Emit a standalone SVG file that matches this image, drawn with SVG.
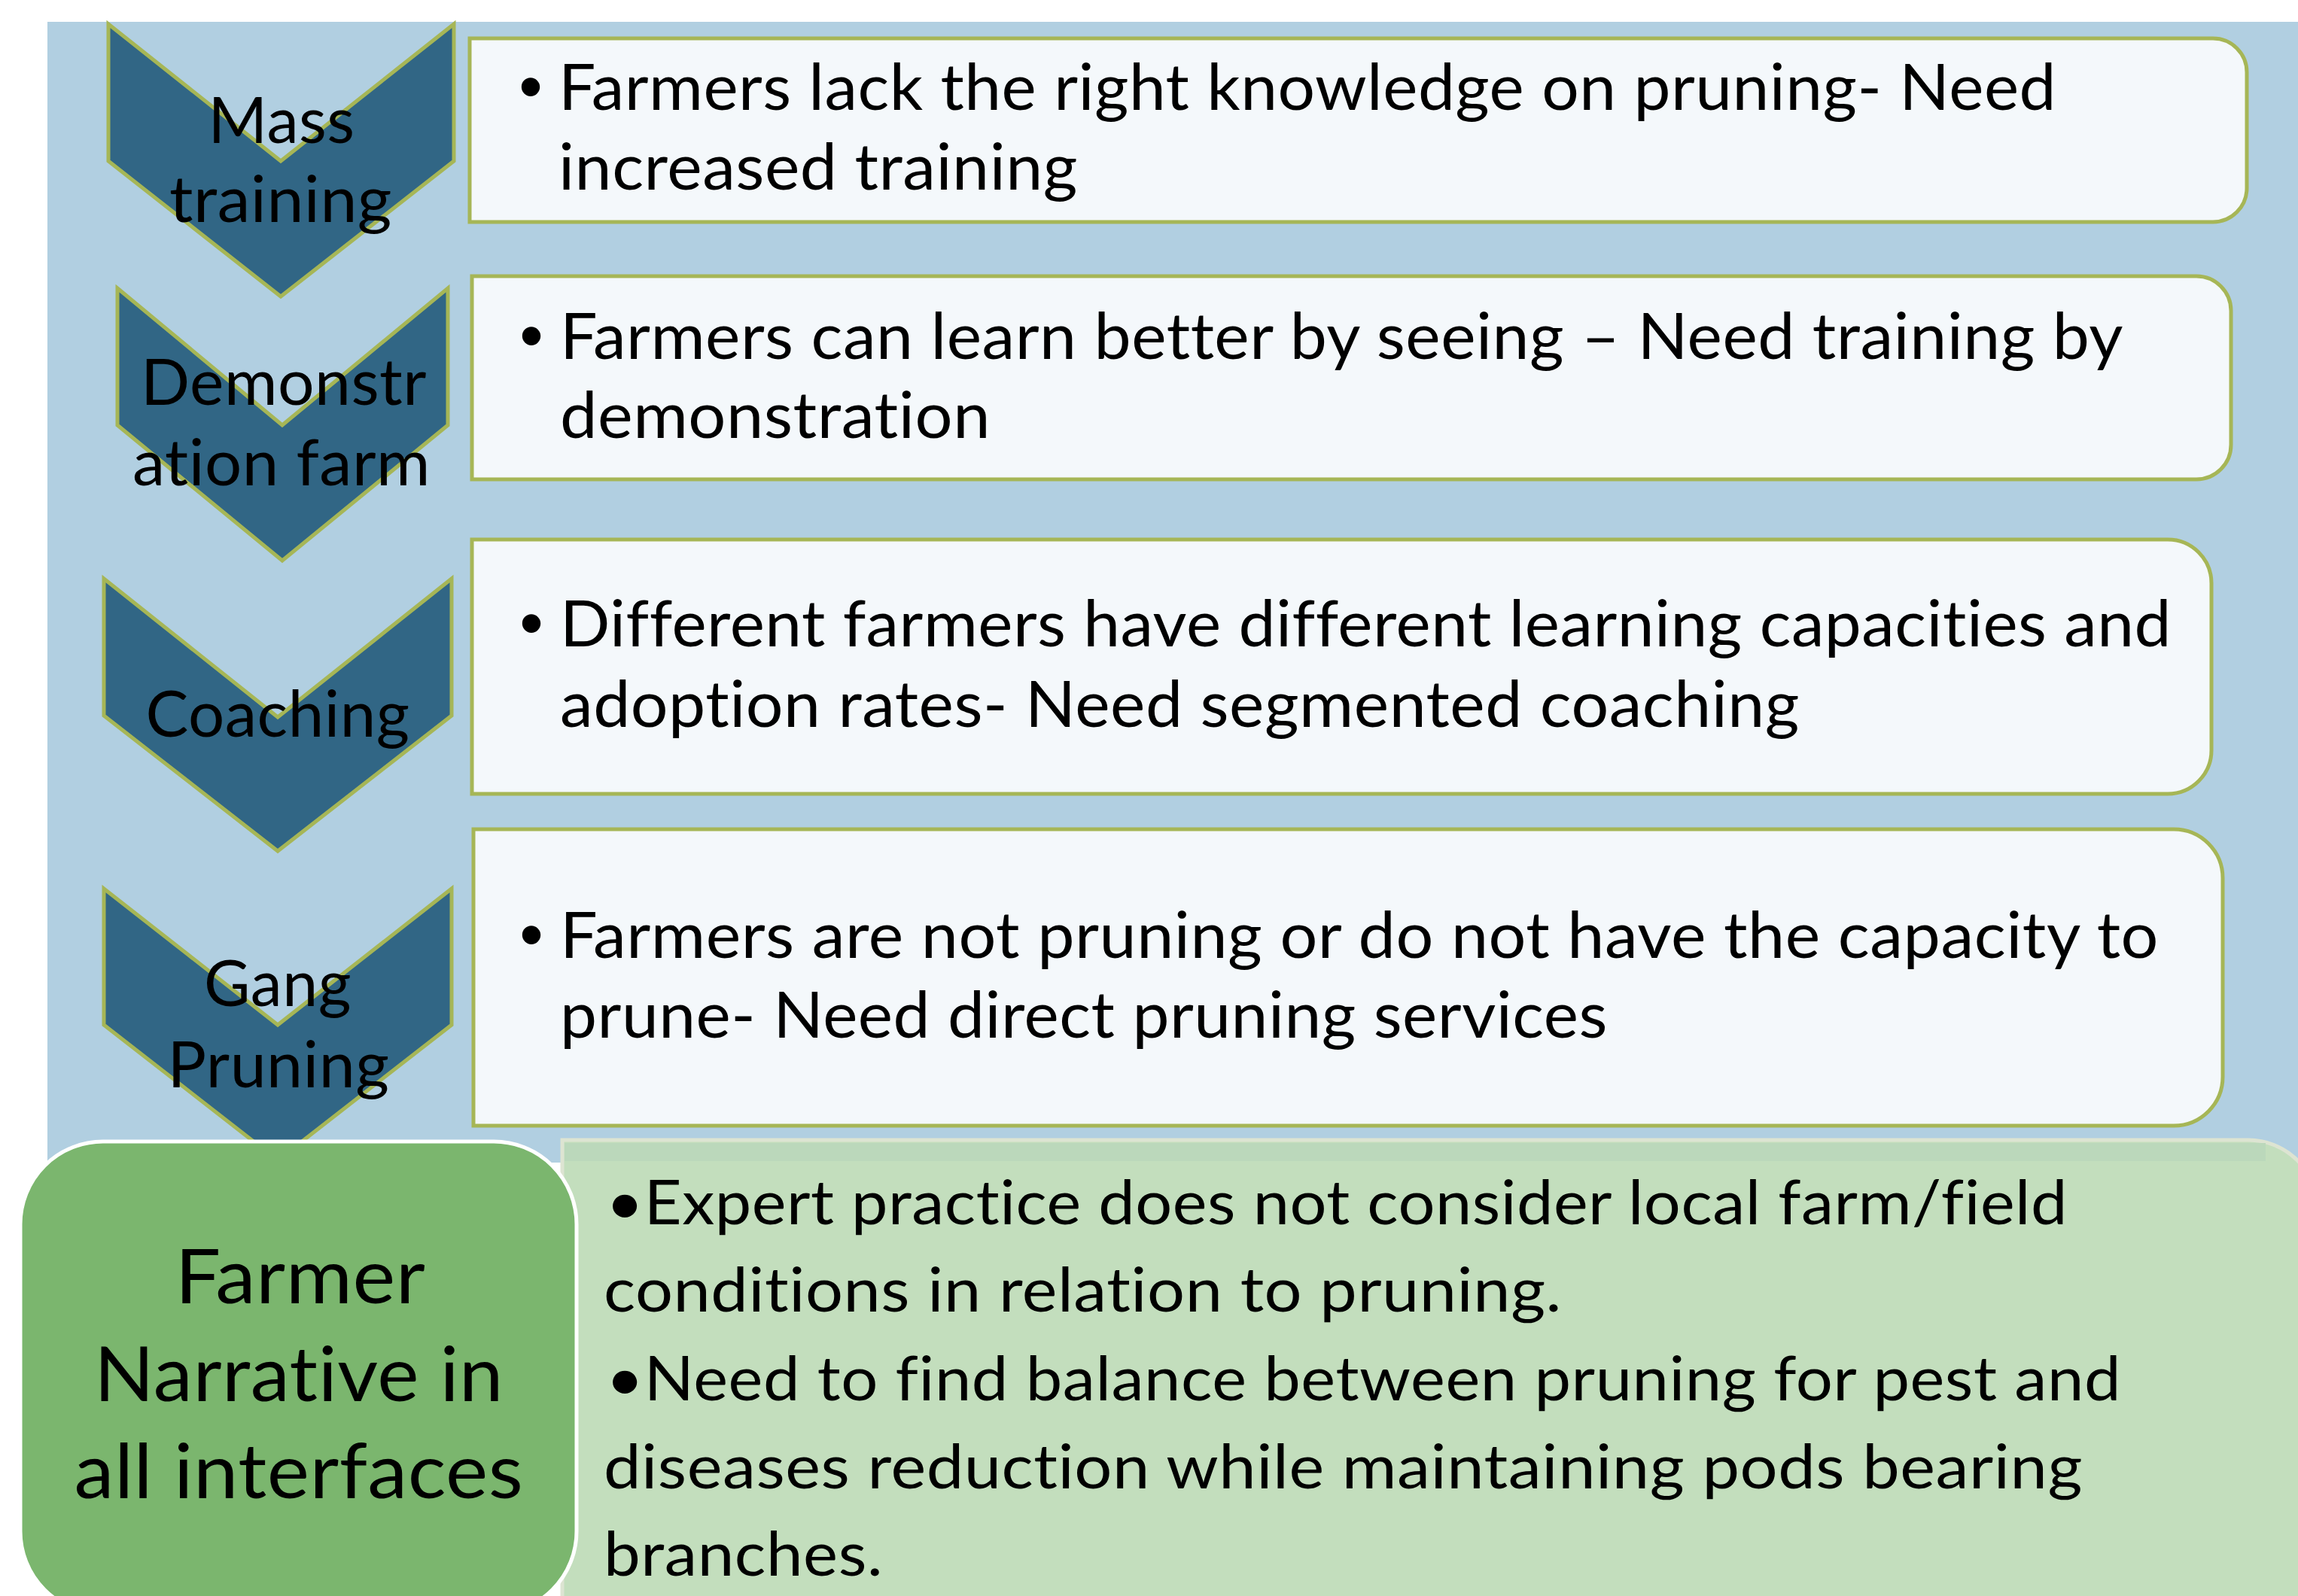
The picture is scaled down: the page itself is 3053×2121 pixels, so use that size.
<svg xmlns="http://www.w3.org/2000/svg" width="3053" height="2121" viewBox="0 0 3053 2121">
<style>
.chev{fill:#316685;stroke:#A6B656;stroke-width:5;stroke-linejoin:miter}
.box{fill:#F4F8FB;stroke:#A6B656;stroke-width:5}
.t{font-family:Lato,"Liberation Sans",sans-serif;fill:#000;font-variant-ligatures:none;font-feature-settings:"liga" 0,"clig" 0,"dlig" 0;letter-spacing:0.5px}
.c{text-anchor:middle}
.s86{font-size:86px}
.s81{font-size:81px}
.s100{font-size:101px}
.bul{font-family:"Liberation Sans",sans-serif;font-size:90px;text-anchor:middle;fill:#000}
</style>
<rect width="3053" height="2121" fill="#FFFFFF"/>
<rect id="background" x="63" y="29" width="2990" height="1516" fill="#B1CFE1"/>

<g id="chevron-mass-training">
<polygon class="chev" points="144,32 373,214 603,32 603,214 373,394 144,214"/>
<text class="t c s86" x="374" y="190" textLength="195" lengthAdjust="spacingAndGlyphs">Mass</text>
<text class="t c s86" x="373" y="295" textLength="296" lengthAdjust="spacingAndGlyphs">training</text>
</g>
<g id="chevron-demonstration-farm">
<polygon class="chev" points="156,383 375,565 595,383 595,565 375,745 156,565"/>
<text class="t c s86" x="377" y="538" textLength="380" lengthAdjust="spacingAndGlyphs">Demonstr</text>
<text class="t c s86" x="374" y="645" textLength="396" lengthAdjust="spacingAndGlyphs">ation farm</text>
</g>
<g id="chevron-coaching">
<polygon class="chev" points="138,769 369,953 600,769 600,951 369,1131 138,951"/>
<text class="t c s86" x="369" y="979" textLength="351" lengthAdjust="spacingAndGlyphs">Coaching</text>
</g>
<g id="chevron-gang-pruning">
<polygon class="chev" points="138,1181 369,1362 600,1181 600,1362 369,1542 138,1362"/>
<text class="t c s86" x="369" y="1337" textLength="196" lengthAdjust="spacingAndGlyphs">Gang</text>
<text class="t c s86" x="370" y="1445" textLength="295" lengthAdjust="spacingAndGlyphs">Pruning</text>
</g>

<g id="box-mass-training">
<path class="box" d="M624,51 H2940 A45,45 0 0 1 2985,96 V250 A45,45 0 0 1 2940,295 H624 Z"/>
<text class="bul" x="705" y="146">•</text>
<text class="t s86" x="742" y="146" textLength="1990" lengthAdjust="spacingAndGlyphs">Farmers lack the right knowledge on pruning- Need</text>
<text class="t s86" x="742" y="252" textLength="690" lengthAdjust="spacingAndGlyphs">increased training</text>
</g>
<g id="box-demonstration-farm">
<path class="box" d="M627,367 H2918 A46,46 0 0 1 2964,413 V591 A46,46 0 0 1 2918,637 H627 Z"/>
<text class="bul" x="706" y="477">•</text>
<text class="t s86" x="744" y="477" textLength="2077" lengthAdjust="spacingAndGlyphs">Farmers can learn better by seeing – Need training by</text>
<text class="t s86" x="744" y="582" textLength="572" lengthAdjust="spacingAndGlyphs">demonstration</text>
</g>
<g id="box-coaching">
<path class="box" d="M627,717 H2880 A58,58 0 0 1 2938,775 V997 A58,58 0 0 1 2880,1055 H627 Z"/>
<text class="bul" x="706" y="859">•</text>
<text class="t s86" x="744" y="859" textLength="2141" lengthAdjust="spacingAndGlyphs">Different farmers have different learning capacities and</text>
<text class="t s86" x="744" y="966" textLength="1647" lengthAdjust="spacingAndGlyphs">adoption rates- Need segmented coaching</text>
</g>
<g id="box-gang-pruning">
<path class="box" d="M629,1102 H2888 A65,65 0 0 1 2953,1167 V1431 A65,65 0 0 1 2888,1496 H629 Z"/>
<text class="bul" x="706" y="1273">•</text>
<text class="t s86" x="744" y="1273" textLength="2124" lengthAdjust="spacingAndGlyphs">Farmers are not pruning or do not have the capacity to</text>
<text class="t s86" x="744" y="1379" textLength="1392" lengthAdjust="spacingAndGlyphs">prune- Need direct pruning services</text>
</g>

<g id="box-expert-practice">
<path d="M747,1515 H2987 A92,92 0 0 1 3079,1607 V2200 H747 Z" fill="#C3DEBD" stroke="#DDE4D2" stroke-width="5"/>
<rect x="750" y="1519" width="2260" height="24" fill="#BBD8BB"/>
<text class="t s81" x="805" y="1627" textLength="1942" lengthAdjust="spacingAndGlyphs">•Expert practice does not consider local farm/field</text>
<text class="t s81" x="802" y="1743" textLength="1273" lengthAdjust="spacingAndGlyphs">conditions in relation to pruning.</text>
<text class="t s81" x="805" y="1861" textLength="2013" lengthAdjust="spacingAndGlyphs">•Need to find balance between pruning for pest and</text>
<text class="t s81" x="802" y="1978" textLength="1965" lengthAdjust="spacingAndGlyphs">diseases reduction while maintaining pods bearing</text>
<text class="t s81" x="802" y="2094" textLength="371" lengthAdjust="spacingAndGlyphs">branches.</text>
</g>
<g id="box-farmer-narrative">
<rect x="27" y="1517" width="739" height="628" rx="110" ry="110" fill="#7BB66E" stroke="#FFFFFF" stroke-width="5"/>
<text class="t c s100" x="399" y="1732" textLength="333" lengthAdjust="spacingAndGlyphs">Farmer</text>
<text class="t c s100" x="397" y="1862" textLength="544" lengthAdjust="spacingAndGlyphs">Narrative in</text>
<text class="t c s100" x="397" y="1991" textLength="597" lengthAdjust="spacingAndGlyphs">all interfaces</text>
</g>
<g id="connectors"/>
</svg>
